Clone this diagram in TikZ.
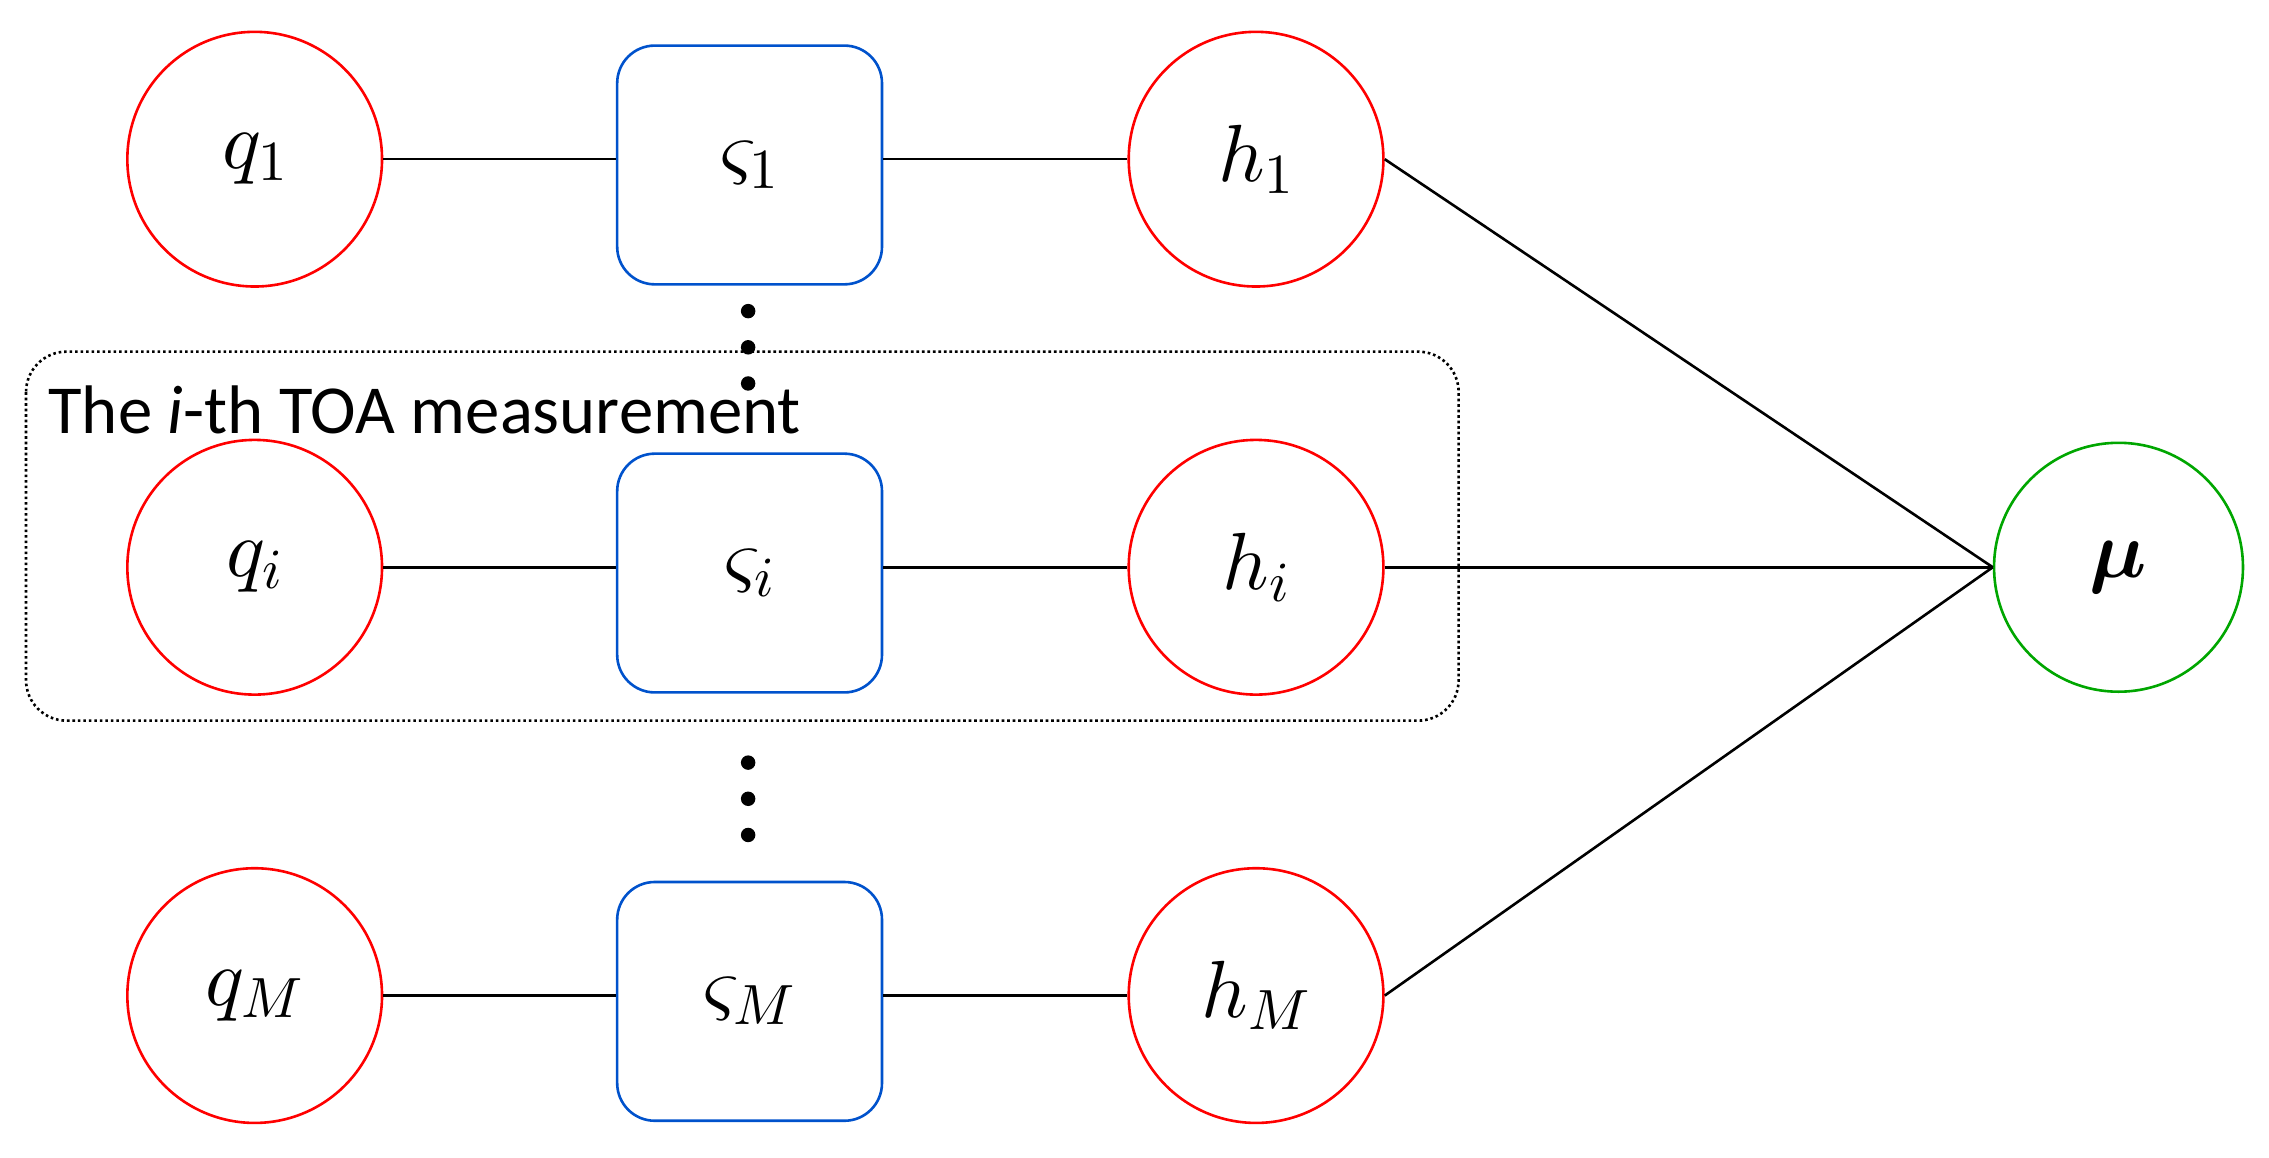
\documentclass[tikz,border=0pt]{standalone}
\usepackage{fix-cm}
\usepackage{amsmath,bm}
\DeclareFontShape{OML}{cmm}{m}{it}{<->cmmi10}{}
\DeclareFontShape{OML}{cmm}{b}{it}{<->cmmib10}{}
\DeclareFontShape{OT1}{cmr}{m}{n}{<->cmr10}{}
\usepackage{fontspec}
\newfontfamily\calib{Carlito}
\begin{document}
\begin{tikzpicture}[x=1pt,y=-1pt,
  var/.style={circle,draw=red,line width=1.8pt,minimum size=176pt,inner sep=0pt,font=\fontsize{56}{60}\selectfont},
  fac/.style={rectangle,rounded corners=26pt,draw=blue!60!cyan!80!black,line width=1.8pt,minimum width=183pt,minimum height=165pt,inner sep=0pt,font=\fontsize{56}{60}\selectfont},
  glob/.style={circle,draw=green!65!black,line width=1.8pt,minimum size=172pt,inner sep=0pt,font=\fontsize{56}{60}\selectfont},
  edge/.style={line width=1.8pt},
  dot/.style={circle,fill=black,minimum size=10pt,inner sep=0pt}]
\useasboundingbox (0,0) rectangle (1568,800);
\draw[line width=1.8pt,dotted,rounded corners=28pt] (18,243) rectangle (1008,498);
\node[anchor=west,font=\calib\fontsize{47.5}{50}\selectfont] (lab) at (30,283) {The \textit{i}-th TOA measurement};
\foreach \n/\y/\s in {1/110/1,i/392/i,M/688/M}{
  \node[var] (q\n) at (176,\y) {$q_{\s}$};
  \node[fac] (s\n) at (518,\y+4) {$\varsigma_{\s}$};
  \node[var] (h\n) at (868,\y) {$h_{\s}$};
}
\node[glob] (mu) at (1464,392) {$\bm{\mu}$};
\foreach \n in {1,i,M}{
  \draw[edge] (q\n.east) -- (s\n.west |- q\n.east);
  \draw[edge] (s\n.east |- h\n.west) -- (h\n.west);
  \draw[edge] (h\n.east) -- (mu.west);
}
\foreach \y [count=\k] in {215,240,265,527,552,577}{
  \node[dot] (d\k) at (517,\y) {};
}
\end{tikzpicture}
\end{document}
